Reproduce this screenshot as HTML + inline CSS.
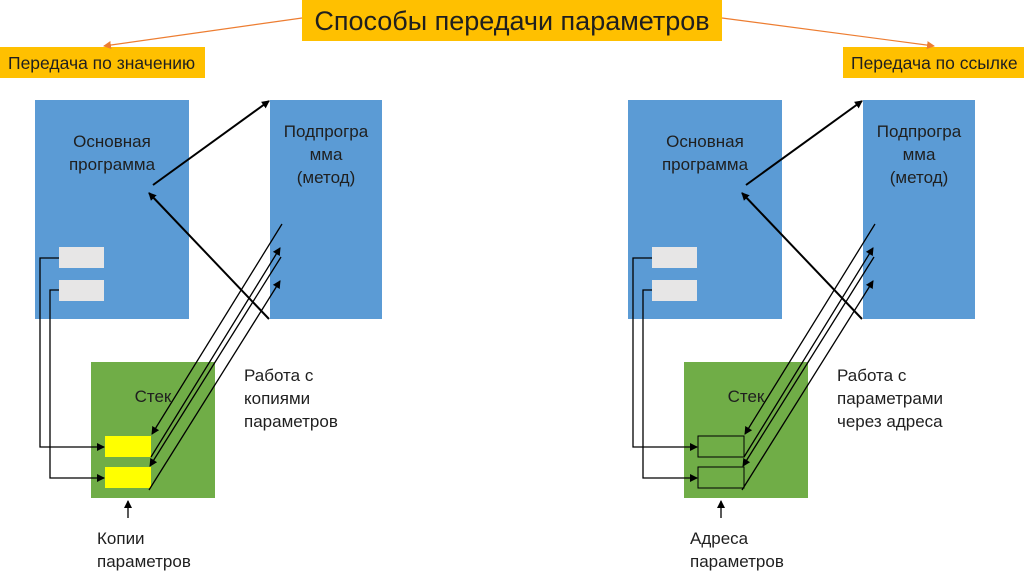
<!DOCTYPE html>
<html><head><meta charset="utf-8"><style>
html,body{margin:0;padding:0;background:#fff;}
svg{display:block;font-family:"Liberation Sans","DejaVu Sans",sans-serif;}
</style></head><body>
<svg width="1024" height="574" viewBox="0 0 1024 574" xmlns="http://www.w3.org/2000/svg">
<defs>
<marker id="a" markerWidth="8" markerHeight="8" refX="7" refY="4" orient="auto" markerUnits="userSpaceOnUse"><path d="M0,0 L8,4 L0,8 z" fill="#000"/></marker>
<marker id="o" markerWidth="8" markerHeight="8" refX="7" refY="4" orient="auto" markerUnits="userSpaceOnUse"><path d="M0,0 L8,4 L0,8 z" fill="#ed7d31"/></marker>
<g id="base">
<rect x="35" y="100" width="154" height="219" fill="#5b9bd5"/>
<rect x="270" y="100" width="112" height="219" fill="#5b9bd5"/>
<rect x="91" y="362" width="124" height="136" fill="#70ad47"/>
<rect x="59" y="247" width="45" height="21" fill="#e7e6e6"/>
<rect x="59" y="280" width="45" height="21" fill="#e7e6e6"/>
<g font-size="17" fill="#1f1f1f" text-anchor="middle">
<text x="112" y="147">Основная</text>
<text x="112" y="170">программа</text>
<text x="326" y="137">Подпрогра</text>
<text x="326" y="160">мма</text>
<text x="326" y="183">(метод)</text>
<text x="153" y="402">Стек</text>
</g>
</g>
<g id="lines" fill="none" stroke="#000" stroke-width="1.3">
<line x1="153" y1="185" x2="269" y2="101" stroke-width="2" marker-end="url(#a)"/>
<line x1="269" y1="319" x2="149" y2="193" stroke-width="2" marker-end="url(#a)"/>
<polyline points="59,258 40,258 40,447 104,447" marker-end="url(#a)"/>
<polyline points="59,290 50,290 50,478 104,478" marker-end="url(#a)"/>
<line x1="282" y1="224" x2="152" y2="434" marker-end="url(#a)"/>
<line x1="151" y1="457" x2="280" y2="248" marker-end="url(#a)"/>
<line x1="281" y1="257" x2="150" y2="466" marker-end="url(#a)"/>
<line x1="149" y1="490" x2="280" y2="281" marker-end="url(#a)"/>
<line x1="128" y1="518" x2="128" y2="501" marker-end="url(#a)"/>
</g>
</defs>
<rect x="302" y="0" width="420" height="41" fill="#ffc000"/>
<text x="512" y="30" font-size="27" text-anchor="middle" fill="#1f1f1f">Способы передачи параметров</text>
<rect x="0" y="47" width="205" height="31" fill="#ffc000"/>
<text x="8" y="69" font-size="17.5" fill="#1f1f1f">Передача по значению</text>
<rect x="843" y="47" width="181" height="31" fill="#ffc000"/>
<text x="851" y="69" font-size="17.5" fill="#1f1f1f">Передача по ссылке</text>
<line x1="302" y1="18" x2="104" y2="46" stroke="#ed7d31" stroke-width="1.2" marker-end="url(#o)"/>
<line x1="722" y1="18" x2="934" y2="46" stroke="#ed7d31" stroke-width="1.2" marker-end="url(#o)"/>
<use href="#base"/>
<rect x="105" y="436" width="46" height="21" fill="#ffff00"/>
<rect x="105" y="467" width="46" height="21" fill="#ffff00"/>
<use href="#lines"/>
<g font-size="17" fill="#1f1f1f">
<text x="244" y="381">Работа с</text>
<text x="244" y="404">копиями</text>
<text x="244" y="427">параметров</text>
<text x="97" y="544">Копии</text>
<text x="97" y="567">параметров</text>
</g>
<g transform="translate(593,0)">
<use href="#base"/>
<rect x="105" y="436" width="46" height="21" fill="none" stroke="#000" stroke-width="1"/>
<rect x="105" y="467" width="46" height="21" fill="none" stroke="#000" stroke-width="1"/>
<use href="#lines"/>
<g font-size="17" fill="#1f1f1f">
<text x="244" y="381">Работа с</text>
<text x="244" y="404">параметрами</text>
<text x="244" y="427">через адреса</text>
<text x="97" y="544">Адреса</text>
<text x="97" y="567">параметров</text>
</g>
</g>
</svg>
</body></html>
